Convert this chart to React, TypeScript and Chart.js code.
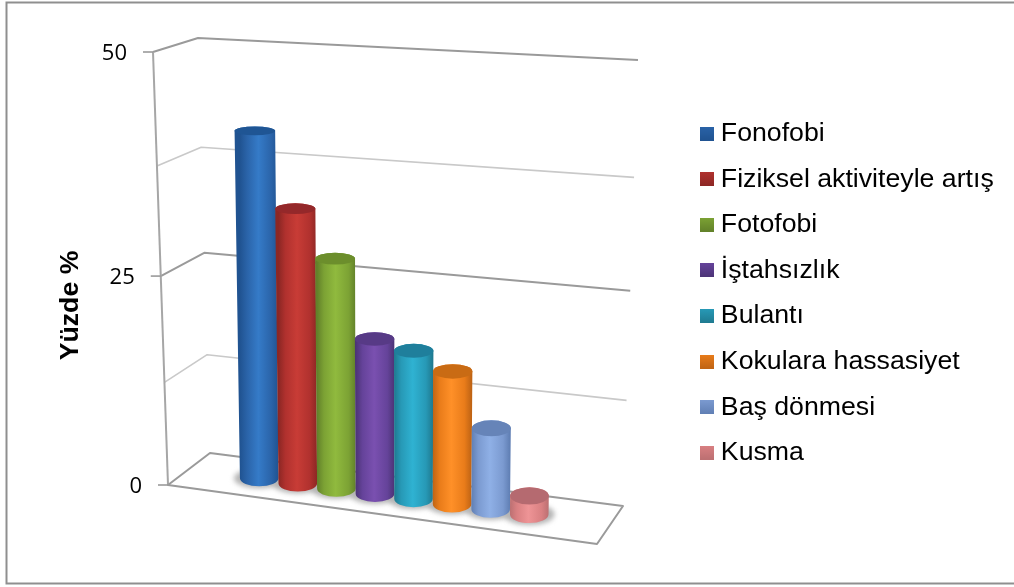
import { useEffect, useRef } from "react";
import { Chart, registerables } from "chart.js";

Chart.register(...registerables);

// Symptom shares in percent
const categories = ["Fonofobi", "Fiziksel aktiviteyle artış", "Fotofobi", "İştahsızlık", "Bulantı", "Kokulara hassasiyet", "Baş dönmesi", "Kusma"];
const percentages = [41, 32.6, 27.3, 18.5, 17.6, 15.7, 9.6, 2.2];

// Cylinder shading per series
const edgeColors = ["#205391", "#8c2724", "#62812a", "#4c3476", "#1f7a90", "#c06414", "#607fb4", "#bc7072"];
const midColors = ["#2a63a8", "#b0312e", "#7ca234", "#65439a", "#2799b6", "#e97c1a", "#7b9ad0", "#d98082"];
const lightColors = ["#357bc8", "#c83c36", "#90ba3e", "#7a50b0", "#2fb2d2", "#ff9028", "#8fb0e6", "#ee9496"];
const capColors = ["#1f5594", "#94282a", "#6c8e2c", "#573a86", "#1f7f9c", "#c96b14", "#6684b8", "#b56a70"];

const yTicks = { min: 0, max: 50, step: 12.5 };
const labelledEvery = 2;
const axisTitle = "Yüzde %";

type Pt = [number, number];

// Corners of the 3D box: floor plane and the plane at the axis maximum
const floorFL: Pt = [168, 485];
const floorFR: Pt = [597, 544];
const floorBL: Pt = [210, 453];
const floorBR: Pt = [623, 506];
const roofFL: Pt = [153, 52];
const roofBL: Pt = [198, 38];
const roofBR: Pt = [638, 60];
const roofFR: Pt = [609, 80];

const mix = (a: Pt, b: Pt, k: number): Pt => [a[0] + (b[0] - a[0]) * k, a[1] + (b[1] - a[1]) * k];

// Maps (u along the floor, v into the depth, t up the axis) to canvas pixels
function project(u: number, v: number, t: number): Pt {
  const warped = t - 0.07 * t * (1 - t);
  const floor = mix(mix(floorFL, floorFR, u), mix(floorBL, floorBR, u), v);
  const roof = mix(mix(roofFL, roofFR, u), mix(roofBL, roofBR, u), v);
  return mix(floor, roof, warped);
}

function polyline(ctx: CanvasRenderingContext2D, pts: Pt[], color: string, width: number, close = false) {
  ctx.beginPath();
  pts.forEach((p, i) => (i ? ctx.lineTo(p[0], p[1]) : ctx.moveTo(p[0], p[1])));
  if (close) ctx.closePath();
  ctx.strokeStyle = color;
  ctx.lineWidth = width;
  ctx.lineJoin = "round";
  ctx.stroke();
}

const box3d = {
  id: "box3d",
  afterLayout(chart: any) {
    // The legend column sits in its own place, independent of the plot box
    const legend = chart.legend;
    const pad = legend.options.labels.padding;
    const h = legend.bottom - legend.top;
    legend.left = 706.5 - pad;
    legend.right = chart.width;
    legend.top = 120.2 - pad;
    legend.bottom = legend.top + h + pad;
  },
  beforeDraw(chart: any) {
    const ctx = chart.ctx;
    ctx.save();
    ctx.fillStyle = "#ffffff";
    ctx.fillRect(0, 0, chart.width, chart.height);
    // Outer frame runs off the right side of the canvas
    ctx.strokeStyle = "#8f8f8f";
    ctx.lineWidth = 2;
    ctx.strokeRect(6.5, 2.5, chart.width, 581);
    ctx.restore();
  },
  beforeDatasetsDraw(chart: any) {
    const ctx: CanvasRenderingContext2D = chart.ctx;
    const area = chart.chartArea;
    const yScale = chart.scales.y;
    const toT = (value: number) => (area.bottom - yScale.getPixelForValue(value)) / (area.bottom - area.top);
    ctx.save();

    // Walls: one bent line per tick, then the slanted value axis
    yScale.ticks.forEach((tick: any, i: number) => {
      const t = toT(tick.value);
      const strong = i % labelledEvery === 0;
      if (t > 0) {
        polyline(ctx, [project(0, 0, t), project(0, 1, t), project(1, 1, t)], strong ? "#9a9a9a" : "#c9c9c9", strong ? 2 : 1.6);
      }
    });
    polyline(ctx, [project(0, 0, 0), project(0, 0, 1)], "#a6a6a6", 2);

    // Floor outline
    polyline(ctx, [project(0, 0, 0), project(1, 0, 0), project(1, 1, 0), project(0, 1, 0)], "#9a9a9a", 2, true);

    // Tick marks and value labels follow the slant of the axis
    ctx.font = '22px "Open Sans"';
    ctx.fillStyle = "#000000";
    ctx.textAlign = "right";
    ctx.textBaseline = "middle";
    yScale.ticks.forEach((tick: any, i: number) => {
      if (i % labelledEvery !== 0) return;
      const p = project(0, 0, toT(tick.value));
      polyline(ctx, [[p[0] - 10, p[1]], p], "#9a9a9a", 1.6);
      ctx.fillText(String(tick.value), p[0] - 26, p[1] + 2);
    });

    // Rotated axis title
    ctx.save();
    ctx.translate(71, 305.5);
    ctx.rotate(-Math.PI / 2);
    ctx.font = 'bold 26.7px "Liberation Sans"';
    ctx.textAlign = "center";
    ctx.fillText(axisTitle, 0, 0);
    ctx.restore();

    // Cylinders are placed from the bar elements the chart laid out
    const depth = 0.5;
    const depthHalf = 0.24;
    const shift = -0.0125;
    const leanFactor = 0.6;
    const shapes = chart.data.datasets.map((_: any, idx: number) => {
      const bar = chart.getDatasetMeta(idx).data[0];
      const u = (bar.x - area.left) / area.width + shift;
      const hw = bar.width / area.width / 2;
      const ring = (t: number) => {
        const c = project(u, depth, t);
        const l = project(u - hw, depth, t);
        const r = project(u + hw, depth, t);
        const f = project(u, depth - depthHalf, t);
        const b = project(u, depth + depthHalf, t);
        return { x: c[0], y: c[1], rx: (r[0] - l[0]) / 2, ry: Math.abs(f[1] - b[1]) / 2 };
      };
      const bottom = ring(0);
      const top = ring(toT(chart.data.datasets[idx].data[0]));
      // Columns splay less than the walls do
      top.x = bottom.x + (top.x - bottom.x) * leanFactor;
      return { idx, bottom, top };
    });

    // Soft contact shadows on the floor
    ctx.save();
    ctx.filter = "blur(2.5px)";
    ctx.fillStyle = "#b4b4b4";
    shapes.forEach(({ bottom: b }: any) => {
      ctx.beginPath();
      ctx.ellipse(b.x, b.y, b.rx + 6, b.ry + 2, 0, 0, Math.PI * 2);
      ctx.fill();
    });
    ctx.restore();

    shapes.forEach(({ idx, bottom: b, top: a }: any) => {
      const grad = ctx.createLinearGradient(b.x - b.rx, 0, b.x + b.rx, 0);
      grad.addColorStop(0, edgeColors[idx]);
      grad.addColorStop(0.18, midColors[idx]);
      grad.addColorStop(0.48, lightColors[idx]);
      grad.addColorStop(0.82, midColors[idx]);
      grad.addColorStop(1, edgeColors[idx]);
      ctx.beginPath();
      ctx.moveTo(a.x - a.rx, a.y);
      ctx.lineTo(b.x - b.rx, b.y);
      ctx.ellipse(b.x, b.y, b.rx, b.ry, 0, Math.PI, 0, true);
      ctx.lineTo(a.x + a.rx, a.y);
      ctx.ellipse(a.x, a.y, a.rx, a.ry, 0, 0, Math.PI, true);
      ctx.closePath();
      ctx.fillStyle = grad;
      ctx.fill();
      ctx.beginPath();
      ctx.ellipse(a.x, a.y, a.rx, a.ry, 0, 0, Math.PI * 2);
      ctx.fillStyle = capColors[idx];
      ctx.fill();
    });

    ctx.restore();
    return false;
  },
};

// Small shaded square used as the legend key
function legendKey(top: string, bottom: string) {
  const c = document.createElement("canvas");
  c.width = 14;
  c.height = 14;
  const g = c.getContext("2d")!;
  const grad = g.createLinearGradient(0, 0, 0, 14);
  grad.addColorStop(0, top);
  grad.addColorStop(1, bottom);
  g.fillStyle = grad;
  g.fillRect(0, 0, 14, 14);
  return c;
}

export default function App() {
  const ref = useRef<HTMLCanvasElement>(null);

  useEffect(() => {
    const chart = new Chart(ref.current!, {
      type: "bar",
      data: {
        labels: [""],
        datasets: categories.map((label, i) => ({
          label,
          data: [percentages[i]],
          backgroundColor: midColors[i],
        })),
      },
      plugins: [box3d],
      options: {
        responsive: false,
        animation: false,
        layout: { padding: { top: 52, bottom: 102, left: 0, right: 0 } },
        datasets: { bar: { categoryPercentage: 0.733, barPercentage: 1.0 } },
        scales: {
          x: { display: false },
          y: {
            min: yTicks.min,
            max: yTicks.max,
            ticks: { stepSize: yTicks.step, display: false },
            grid: { display: false },
            border: { display: false },
            afterFit: (scale: any) => {
              scale.width = 153;
            },
          },
        },
        plugins: {
          tooltip: { enabled: false },
          legend: {
            position: "right",
            align: "start",
            labels: {
              font: { family: '"Liberation Sans"', size: 26.7 },
              color: "#000000",
              padding: 18.9,
              usePointStyle: true,
              pointStyleWidth: 1,
              generateLabels: () =>
                categories.map((text, i) => ({
                  text,
                  datasetIndex: i,
                  fontColor: "#000000",
                  pointStyle: legendKey(midColors[i], edgeColors[i]),
                  fillStyle: midColors[i],
                  lineWidth: 0,
                })),
            },
          },
        },
      },
    } as any);
    return () => chart.destroy();
  }, []);

  return (
    <div style={{ position: "fixed", left: 0, top: 0 }}>
      <canvas ref={ref} width={1014} height={587} style={{ display: "block" }} />
    </div>
  );
}
